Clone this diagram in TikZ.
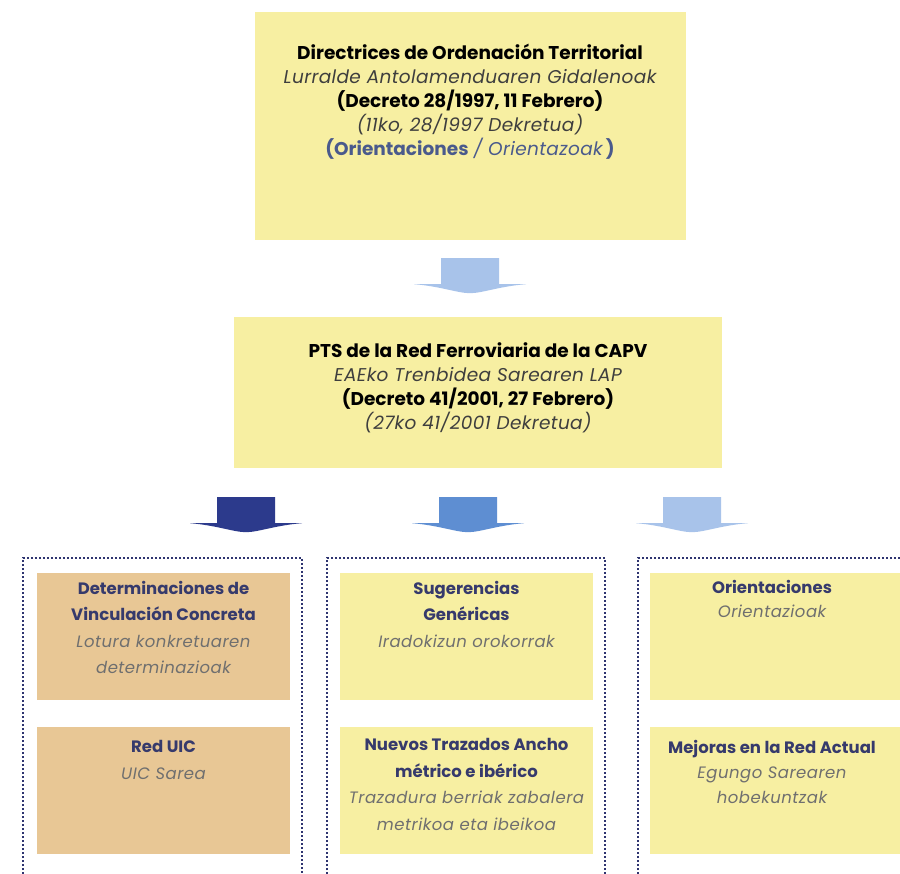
\documentclass[tikz,border=0pt]{standalone}
\usepackage{fontspec}
\setmainfont{Poppins}
\usetikzlibrary{positioning,calc}

\definecolor{boxyellow}{HTML}{F7EFA2}
\definecolor{boxorange}{HTML}{E8C795}
\definecolor{arrowlight}{HTML}{A8C3EA}
\definecolor{arrowmid}{HTML}{5E8ED2}
\definecolor{arrowdark}{HTML}{2C3A8C}
\definecolor{framenavy}{HTML}{2E3470}
\definecolor{headnavy}{HTML}{363A6C}
\definecolor{subgray}{HTML}{6F6F6F}
\definecolor{topgray}{HTML}{3E3E3E}
\definecolor{orientblue}{HTML}{4A5A8C}

\tikzset{
  bigbox/.style={fill=boxyellow, inner sep=0pt},
  subbox/.style={fill=boxyellow, inner sep=0pt, minimum width=253pt, minimum height=127pt},
  uicbox/.style={subbox, fill=boxorange},
  frame/.style={draw=framenavy, line width=2pt, dash pattern=on 2pt off 2pt},
  bigtxt/.style={inner sep=0pt, align=center, font=\fontsize{18.5}{24}\selectfont},
  subtxt/.style={inner sep=0pt, align=center, font=\fontsize{16.5}{26.5}\selectfont},
  downarrow/.pic={
    \path[pic actions] (-29,0) -- (29,0) -- (29,26) -- (56,26)
      .. controls (30,28) and (12,35) .. (0,35)
      .. controls (-12,35) and (-30,28) .. (-56,26) -- (-29,26) -- cycle;
  }
}

\newcommand{\head}[1]{{\color{headnavy}\bfseries #1}}
\newcommand{\sub}[1]{{\color{subgray}\itshape\addfontfeatures{LetterSpace=3}#1}}
\newcommand{\topit}[1]{{\color{topgray}\itshape\addfontfeatures{LetterSpace=2}#1}}

\begin{document}
\begin{tikzpicture}[x=1pt,y=-1pt]
	\clip (0,0) rectangle (900,874);
	\fill[white] (0,0) rectangle (900,874);

	% directrices
	\node[bigbox, minimum width=431pt, minimum height=228pt] (dot) at (470,126) {};
	\node[bigtxt, below=32pt of dot.north] (dottxt) {%
		\textbf{Directrices de Ordenación Territorial}\\
		\topit{Lurralde Antolamenduaren Gidalenoak}\\
		\textbf{(Decreto 28/1997, 11 Febrero)}\\
		\topit{(11ko, 28/1997 Dekretua)}\\
		{\color{orientblue}\textbf{(Orientaciones} \topit{\color{orientblue}/ Orientazoak}\,\textbf{)}}};

	\pic[fill=arrowlight] at ($(dot.south)+(0,18)$) {downarrow};

	% pts
	\node[bigbox, minimum width=488pt, minimum height=151pt] (pts) at (478,392.5) {};
	\node[bigtxt, below=26pt of pts.north] (ptstxt) {%
		\textbf{PTS de la Red Ferroviaria de la CAPV}\\
		\topit{EAEko Trenbidea Sarearen LAP}\\
		\textbf{(Decreto 41/2001, 27 Febrero)}\\
		\topit{(27ko 41/2001 Dekretua)}};

	\pic[fill=arrowdark] at ($(pts.south)+(-232,29)$) {downarrow};
	\pic[fill=arrowmid] at ($(pts.south)+(-10,29)$) {downarrow};
	\pic[fill=arrowlight] at ($(pts.south)+(214,29)$) {downarrow};

	% three groups
	\draw[frame] (23,890) -- (23,558) -- (302,558) -- (302,890);
	\draw[frame] (327,890) -- (327,558) -- (605,558) -- (605,890);
	\draw[frame] (638,890) -- (638,558) -- (920,558);

	\node[uicbox] (vinc) at (163.5,636.5) {};
	\node[subtxt, below=8pt of vinc.north] (vinctxt) {%
		\head{Determinaciones de}\\ \head{Vinculación Concreta}\\
		\sub{Lotura konkretuaren}\\ \sub{determinazioak}};
	\node[uicbox] (uic) at (163.5,790) {};
	\node[subtxt, below=14pt of uic.north] (uictxt) {%
		\head{Red UIC}\\ \sub{UIC Sarea}};

	\node[subbox] (suger) at (466.5,636.5) {};
	\node[subtxt, below=8pt of suger.north] (sugertxt) {%
		\head{Sugerencias}\\ \head{Genéricas}\\ \sub{Iradokizun orokorrak}};
	\node[subbox] (nuevos) at (466.5,790) {};
	\node[subtxt, below=12pt of nuevos.north] (nuevostxt) {%
		\head{Nuevos Trazados Ancho}\\ \head{métrico e ibérico}\\
		\sub{Trazadura berriak zabalera}\\ \sub{metrikoa eta ibeikoa}};

	\node[subbox, minimum width=270pt] (orient) at (785,636.5) {};
	\node[subtxt, below=7pt of orient.north, xshift=-13pt, font=\fontsize{16.5}{24}\selectfont] (orienttxt) {%
		\head{Orientaciones}\\ \sub{Orientazioak}};
	\node[subbox, minimum width=270pt] (mejoras) at (785,790) {};
	\node[subtxt, below=14pt of mejoras.north, xshift=-13pt, font=\fontsize{16.5}{25}\selectfont] (mejorastxt) {%
		\head{Mejoras en la Red Actual}\\ \sub{Egungo Sarearen}\\ \sub{hobekuntzak}};
\end{tikzpicture}
\end{document}
